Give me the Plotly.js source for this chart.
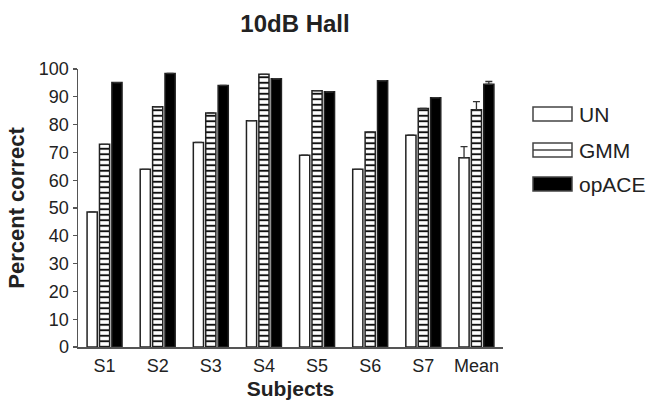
<!DOCTYPE html>
<html>
<head>
<meta charset="utf-8">
<script src="https://cdn.plot.ly/plotly-3.0.1.min.js"></script>
<style>html,body{margin:0;padding:0;background:#fff;}#chart{width:650px;height:404px;}</style>
</head>
<body>
<div id="chart"></div>
<script>
const subjects = ["S1","S2","S3","S4","S5","S6","S7","Mean"];
const seriesNames = ["UN","GMM","opACE"];
const unValues = [48.6, 63.9, 73.6, 81.4, 69.0, 63.9, 76.2, 68.1];
const gmmValues = [72.9, 86.4, 84.2, 98.1, 92.2, 77.3, 85.8, 85.3];
const opaceValues = [95.1, 98.4, 94.1, 96.5, 91.8, 95.8, 89.7, 94.5];
const unErr = [0, 0, 0, 0, 0, 0, 0, 4.0];
const gmmErr = [0, 0, 0, 0, 0, 0, 0, 3.0];
const opaceErr = [0, 0, 0, 0, 0, 0, 0, 1.0];
const zeros = [0, 0, 0, 0, 0, 0, 0, 0];

const W = 650, H = 404;
const M = {l:78, r:147, t:69, b:57};
const plotW = W - M.l - M.r, plotH = H - M.t - M.b;
function px(x){ return (x - M.l) / plotW; }
function py(y){ return (H - M.b - y) / plotH; }

function errSpec(arr){
  return {type:'data', symmetric:false, array:arr, arrayminus:zeros,
          color:'#333', thickness:1.3, width:3.5, visible:true};
}
const lineSpec = {color:'#222', width:1.5};

const traces = [
  {type:'bar', name:seriesNames[0], x:subjects, y:unValues, showlegend:false,
   marker:{color:'#ffffff', line:lineSpec}, error_y: errSpec(unErr)},
  {type:'bar', name:seriesNames[1], x:subjects, y:gmmValues, showlegend:false,
   marker:{color:'#ffffff', line:lineSpec,
           pattern:{shape:'-', fgcolor:'#111', bgcolor:'#ffffff', size:5.5, solidity:0.35}},
   error_y: errSpec(gmmErr)},
  {type:'bar', name:seriesNames[2], x:subjects, y:opaceValues, showlegend:false,
   marker:{color:'#000000', line:lineSpec}, error_y: errSpec(opaceErr)}
];

// custom legend (wide swatches like the original)
const legendRows = [114, 150, 184];
const shapes = [];
const annotations = [];
const boxL = 533, boxR = 572, boxH = 14;
legendRows.forEach((cy, i) => {
  const fill = i === 2 ? '#000000' : '#ffffff';
  shapes.push({type:'rect', xref:'paper', yref:'paper',
    x0:px(boxL), x1:px(boxR), y0:py(cy + boxH/2), y1:py(cy - boxH/2),
    fillcolor:fill, line:{color:'#444', width:1.5}});
  if (i === 1) {
    shapes.push({type:'line', xref:'paper', yref:'paper',
      x0:px(boxL), x1:px(boxR), y0:py(cy), y1:py(cy), line:{color:'#444', width:1.3}});
  }
  annotations.push({xref:'paper', yref:'paper', x:px(boxR + 5), y:py(cy),
    xanchor:'left', yanchor:'middle', showarrow:false, text:seriesNames[i],
    font:{size:21, color:'#222'}});
});

const layout = {
  width:W, height:H,
  margin:M,
  paper_bgcolor:'#fff', plot_bgcolor:'#fff',
  font:{family:'Liberation Sans, Arial, sans-serif', color:'#222', size:18},
  title:{text:'<b>10dB Hall</b>', x:295/W, xref:'container', y:1 - 24/H, yref:'container',
         xanchor:'center', yanchor:'middle', font:{size:24, color:'#222'}},
  barmode:'group', bargap:0.3, bargroupgap:0.18,
  xaxis:{showline:true, linecolor:'#555', linewidth:1.5, ticks:'', showgrid:false,
         zeroline:false, tickfont:{size:18}, ticklabelstandoff:2,
         title:{text:'<b>Subjects</b>', font:{size:21}, standoff:6}},
  yaxis:{range:[0,100], dtick:10, showline:true, linecolor:'#555', linewidth:1.5,
         ticks:'outside', ticklen:4, tickcolor:'#555', tickwidth:1.3, showgrid:false, zeroline:false,
         tickfont:{size:18}, ticklabelstandoff:0,
         title:{text:'<b>Percent correct</b>', font:{size:22}, standoff:8}},
  shapes: shapes,
  annotations: annotations,
  showlegend:false
};

Plotly.newPlot('chart', traces, layout, {displayModeBar:false, staticPlot:true});
</script>
</body>
</html>
